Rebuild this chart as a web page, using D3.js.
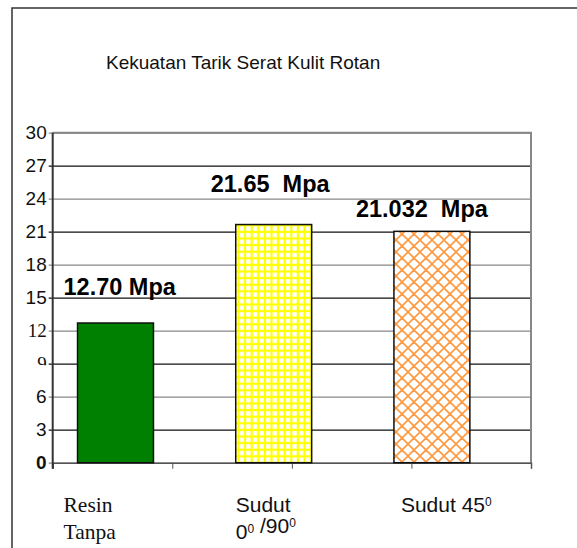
<!DOCTYPE html>
<html>
<head>
<meta charset="utf-8">
<script src="https://cdn.jsdelivr.net/npm/d3@7"></script>
<style>
  body { margin: 0; background: #fff; }
  svg { display: block; font-family: "Liberation Sans", Arial, sans-serif; }
</style>
</head>
<body>
<div id="chart"></div>
<script>
// chart values

let categories = ['Resin Tanpa', 'Sudut 0/90', 'Sudut 45'];
let categoryLines = [['Resin', 'Tanpa'], ['Sudut', '0^0 /90^0'], ['Sudut 45^0']];
let strengths = [12.70, 21.65, 21.032];
let valueLabels = ['12.70 Mpa', '21.65  Mpa', '21.032  Mpa'];
let yTicks = [0, 3, 6, 9, 12, 15, 18, 21, 24, 27, 30];
let title = 'Kekuatan Tarik Serat Kulit Rotan';

// --------------------------------------------------

// hand placed text in the original, kept apart from the data
let labelNudge = [[-14, -28], [-25, -33], [-38, -14]];
let catNudge = [-14, 0, 7];
let catSerif = [true, false, false];

let width = 577, height = 548;
let plot = { left: 52.7, right: 531, top: 132.7, bottom: 462.7 };

let svg = d3.select('#chart')
  .append('svg')
  .attr('width', width)
  .attr('height', height);

let defs = svg.append('defs');

let grid = defs.append('pattern')
  .attr('id', 'grid')
  .attr('patternUnits', 'userSpaceOnUse')
  .attr('width', 6.6)
  .attr('height', 6.6);
grid.append('rect').attr('width', 6.6).attr('height', 6.6).attr('fill', '#ffff00');
grid.append('rect').attr('x', 2).attr('y', 2).attr('width', 4.4).attr('height', 4.4).attr('fill', '#fff');

let hatch = defs.append('pattern')
  .attr('id', 'hatch')
  .attr('patternUnits', 'userSpaceOnUse')
  .attr('width', 12)
  .attr('height', 12);
hatch.append('rect').attr('width', 12).attr('height', 12).attr('fill', '#fff');
hatch.append('path')
  .attr('d', 'M0,0L12,12M12,0L0,12M-6,6L6,18M6,-6L18,6M-6,6L6,-6M6,18L18,6')
  .attr('stroke', '#ff9940')
  .attr('stroke-width', 1.6)
  .attr('fill', 'none');

// the 9 tick label is cut in half in the original
defs.append('clipPath')
  .attr('id', 'cut9')
  .append('rect')
  .attr('x', -30).attr('y', -16).attr('width', 30).attr('height', 17);

let fills = ['#008000', 'url(#grid)', 'url(#hatch)'];

// outer frame, runs off the right and bottom
svg.append('rect')
  .attr('x', 12).attr('y', 8)
  .attr('width', 700).attr('height', 700)
  .attr('fill', 'none')
  .attr('stroke', '#333')
  .attr('stroke-width', 1.5);

svg.append('text')
  .attr('x', 106)
  .attr('y', 69)
  .attr('font-size', 19)
  .attr('fill', '#111')
  .text(title);

let y = d3.scaleLinear()
  .domain([0, 30])
  .range([plot.bottom, plot.top]);

let x = d3.scaleBand()
  .domain(categories)
  .range([36.4, 511])
  .paddingInner(0.52)
  .paddingOuter(0.26);

let xTicks = d3.scaleLinear()
  .domain([0, 4])
  .range([plot.left, plot.right]);

// y axis with gridlines
let yAxis = svg.append('g')
  .attr('transform', `translate(${plot.left},0)`)
  .call(d3.axisLeft(y)
    .tickValues(yTicks)
    .tickSize(plot.left - plot.right)
    .tickPadding(6)
    .tickFormat(d3.format('d')));

yAxis.select('.domain').remove();
yAxis.selectAll('.tick line')
  .attr('x1', -4)
  .attr('stroke', (d, i) => i % 2 ? '#111' : '#888')
  .attr('stroke-width', 1.2);
yAxis.selectAll('.tick text')
  .attr('font-size', 19)
  .attr('font-family', d => (d == 12 || d == 9) ? '"Liberation Serif", serif' : null)
  .attr('font-weight', d => d == 0 ? 'bold' : null)
  .attr('fill', '#111');
yAxis.selectAll('.tick')
  .filter(d => d == 9)
  .each(function ()
  {
    let t = d3.select(this).select('text');
    let g = d3.select(this).append('g').attr('clip-path', 'url(#cut9)');
    g.node().appendChild(t.node());
  });

// plot border on top and right
svg.append('path')
  .attr('d', `M${plot.left},${plot.top}H${plot.right}V${plot.bottom}`)
  .attr('fill', 'none')
  .attr('stroke', '#888')
  .attr('stroke-width', 2);

// x axis
let xAxis = svg.append('g')
  .attr('transform', `translate(0,${plot.bottom})`)
  .call(d3.axisBottom(xTicks)
    .ticks(4)
    .tickSize(6)
    .tickFormat(''));
xAxis.select('.domain')
  .attr('stroke', '#555')
  .attr('stroke-width', 1.5);
xAxis.selectAll('.tick line')
  .attr('stroke', '#555');

// left axis line
svg.append('line')
  .attr('x1', plot.left).attr('x2', plot.left)
  .attr('y1', plot.top).attr('y2', plot.bottom + 6)
  .attr('stroke', '#333')
  .attr('stroke-width', 2);

// bars
svg.selectAll('.bar')
  .data(strengths)
  .enter()
  .append('rect')
  .attr('class', 'bar')
  .attr('x', (d, i) => x(categories[i]))
  .attr('y', d => y(d))
  .attr('width', x.bandwidth())
  .attr('height', d => y(0) - y(d))
  .attr('fill', (d, i) => fills[i])
  .attr('stroke', '#111')
  .attr('stroke-width', 1.5);

// value labels
svg.selectAll('.value')
  .data(strengths)
  .enter()
  .append('text')
  .attr('class', 'value')
  .attr('x', (d, i) => x(categories[i]) + labelNudge[i][0])
  .attr('y', (d, i) => y(d) + labelNudge[i][1])
  .attr('font-size', 23.5)
  .attr('font-weight', 'bold')
  .attr('fill', '#000')
  .style('white-space', 'pre')
  .text((d, i) => valueLabels[i]);

// category labels, ^n marks a superscript
function writeLine(text, line)
{
  line.split(/(\^\d)/).forEach(part =>
  {
    if (!part) return;
    if (part[0] == '^')
    {
      text.append('tspan')
        .attr('font-size', 12)
        .attr('dy', -6)
        .text(part.slice(1));
      text.append('tspan').attr('dy', 6).text('');
    }
    else
    {
      text.append('tspan').text(part);
    }
  });
}

categoryLines.forEach((lines, i) =>
{
  lines.forEach((line, j) =>
  {
    let t = svg.append('text')
      .attr('x', x(categories[i]) + catNudge[i])
      .attr('y', 512 + j * 27)
      .attr('font-size', catSerif[i] ? 21.5 : 21)
      .attr('font-family', catSerif[i] ? '"Liberation Serif", serif' : null)
      .attr('fill', '#111')
      .style('white-space', 'pre');
    writeLine(t, line);
  });
});
</script>
</body>
</html>
